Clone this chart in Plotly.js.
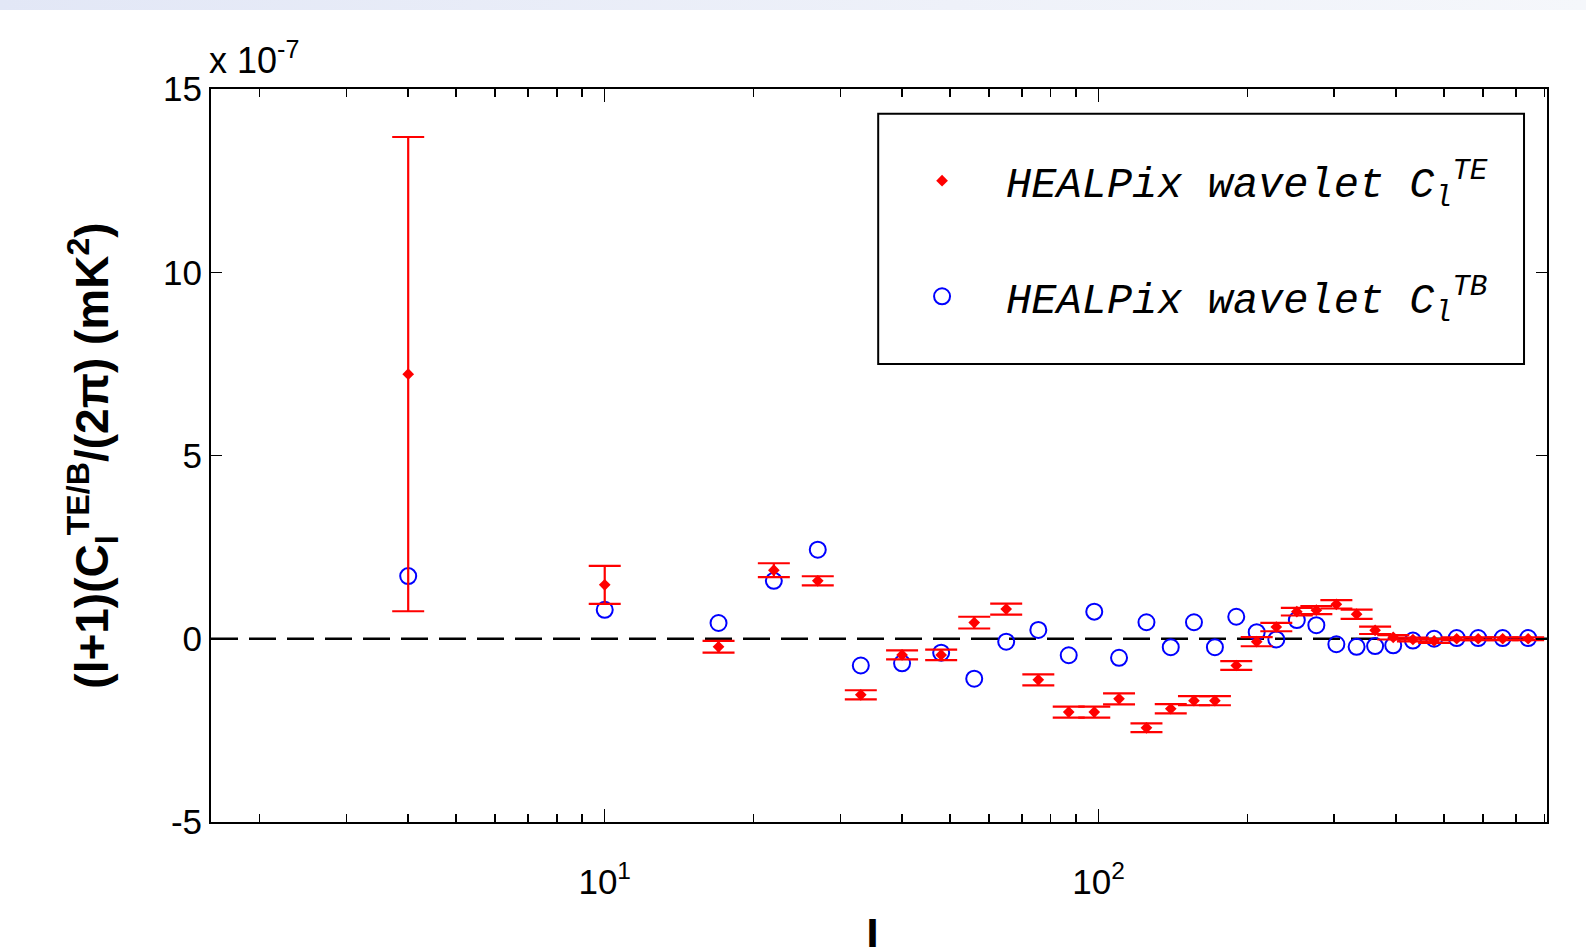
<!DOCTYPE html>
<html><head><meta charset="utf-8">
<script src="https://cdn.plot.ly/plotly-3.0.1.min.js"></script>
<style>
html,body{margin:0;padding:0;background:#fff;}
#chart{position:absolute;left:0;top:0;width:1586px;height:947px;}
#band{position:absolute;left:0;top:0;width:1586px;height:10px;background:linear-gradient(to right,#e2e7f6,#eef1f9 60%,#f5f7fb);}
</style></head><body>
<div id="chart"></div><div id="band"></div>
<script>
// multipole l (bin centres)
const multipoleL = [4,10,17,22,27,33,40,48,56,65,75.5,87,98,110,125,140,156,172,190,209,229,252,276,303,333,363,395,433,478,531,587,658,741];
// (l+1)C_l^TE/(2pi) in units of 1e-7 mK^2
const teValuesE7 = [7.22,1.47,-0.22,1.87,1.58,-1.53,-0.44,-0.44,0.44,0.81,-1.12,-2.0,-2.0,-1.64,-2.43,-1.91,-1.69,-1.69,-0.73,-0.08,0.32,0.74,0.78,0.94,0.67,0.23,0.04,-0.02,-0.06,0.0,0.0,0.0,0.0];
const teErrorsE7 = [6.47,0.52,0.16,0.19,0.125,0.125,0.125,0.145,0.16,0.15,0.15,0.15,0.15,0.15,0.12,0.125,0.125,0.125,0.12,0.125,0.115,0.105,0.11,0.115,0.125,0.1,0.06,0.05,0.05,0.04,0.04,0.04,0.04];
// (l+1)C_l^TB/(2pi) in units of 1e-7 mK^2
const tbValuesE7 = [1.71,0.79,0.43,1.58,2.43,-0.73,-0.67,-0.38,-1.09,-0.08,0.24,-0.45,0.74,-0.52,0.45,-0.23,0.45,-0.23,0.6,0.18,-0.02,0.51,0.37,-0.15,-0.22,-0.2,-0.18,-0.05,0.0,0.02,0.02,0.02,0.02];

const xMajorTicks = [10, 100];
const xMajorLabels = ['10<sup>1</sup>', '10<sup>2</sup>'];
const xMinorTicks = [2,3,4,5,6,7,8,9,20,30,40,50,60,70,80,90,200,300,400,500,600,700,800];
const yTicks = [-5, 0, 5, 10, 15];
const yTickLabels = ['-5', '0', '5', '10', '15'];
const xRange = [1.595, 809];
const yRange = [-5, 15];
const xTitle = '<b>l</b>';
const yTitle = '<b>(l+1)(C<sub>l</sub><sup>TE/B</sup>/(2π) (mK<sup>2</sup>)</b>';

const teName = 'HEALPix wavelet C<sub>l</sub><sup>TE</sup>';
const tbName = 'HEALPix wavelet C<sub>l</sub><sup>TB</sup>';

const traces = [
  {
    x: multipoleL, y: tbValuesE7, type: 'scatter', mode: 'markers', name: tbName,
    legendgroup: 'tb', legendrank: 2,
    marker: {symbol: 'circle-open', size: 16, color: '#0000ff', line: {width: 2, color: '#0000ff'}}
  },
  {
    x: multipoleL, y: teValuesE7, type: 'scatter', mode: 'markers', name: teName,
    legendgroup: 'te', legendrank: 1,
    marker: {symbol: 'diamond', size: 9, color: '#ff0000', line: {width: 0}},
    error_y: {type: 'data', array: teErrorsE7, visible: true, color: '#ff0000', thickness: 2.2, width: 16}
  }
];

const axisCommon = {
  showline: true, linecolor: '#000', linewidth: 2, mirror: 'ticks',
  ticks: 'inside', tickcolor: '#000', tickwidth: 1.5,
  showgrid: false, zeroline: false, automargin: false,
  tickfont: {size: 35, family: 'Liberation Sans, Arial, sans-serif', color: '#000'}
};

const layout = {
  width: 1586, height: 947,
  margin: {l: 211, r: 39, t: 89, b: 125, pad: 0},
  paper_bgcolor: 'rgba(0,0,0,0)', plot_bgcolor: '#ffffff',
  font: {family: 'Liberation Sans, Arial, sans-serif', color: '#000'},
  showlegend: true,
  xaxis: Object.assign({}, axisCommon, {
    type: 'log', range: [Math.log10(xRange[0]), Math.log10(xRange[1])],
    tickmode: 'array', tickvals: xMajorTicks, ticktext: xMajorLabels, ticklen: 13,
    ticklabelstandoff: 28,
    minor: {tickmode: 'array', tickvals: xMinorTicks, ticks: 'inside', ticklen: 8, tickwidth: 1.5, tickcolor: '#000', showgrid: false}
  }),
  yaxis: Object.assign({}, axisCommon, {
    range: yRange, tickmode: 'array', tickvals: yTicks, ticktext: yTickLabels, ticklen: 11,
    title: {text: yTitle, font: {size: 46}, standoff: 40}
  }),
  legend: {
    x: 0.4993, y: 0.921, xanchor: 'left', yanchor: 'top',
    bgcolor: 'rgba(0,0,0,0)', borderwidth: 0,
    font: {family: 'Liberation Mono, monospace', size: 42, style: 'italic', color: '#000'},
    itemwidth: 118, tracegroupgap: 58, traceorder: 'grouped'
  },
  shapes: [
    {type: 'line', xref: 'paper', yref: 'y', x0: 0, x1: 1, y0: 0, y1: 0, layer: 'below',
     line: {color: '#000', width: 2.5, dash: '27px,11px'}},
    {type: 'rect', xref: 'paper', yref: 'paper', x0: 0.4994, x1: 0.9828, y0: 0.625, y1: 0.9662, layer: 'above',
     fillcolor: 'rgba(255,255,255,1)', line: {color: '#000', width: 2}}
  ],
  annotations: [
    {xref: 'paper', yref: 'paper', x: -0.003, y: 1.008, xanchor: 'left', yanchor: 'bottom', showarrow: false,
     text: 'x 10<sup>-7</sup>', font: {size: 36, color: '#000'}},
    {xref: 'paper', yref: 'paper', x: 0.4948, y: -0.118, xanchor: 'center', yanchor: 'top', showarrow: false,
     text: xTitle, font: {size: 47, color: '#000'}}
  ]
};

Plotly.newPlot('chart', traces, layout, {displayModeBar: false, staticPlot: true});
</script>
</body></html>
